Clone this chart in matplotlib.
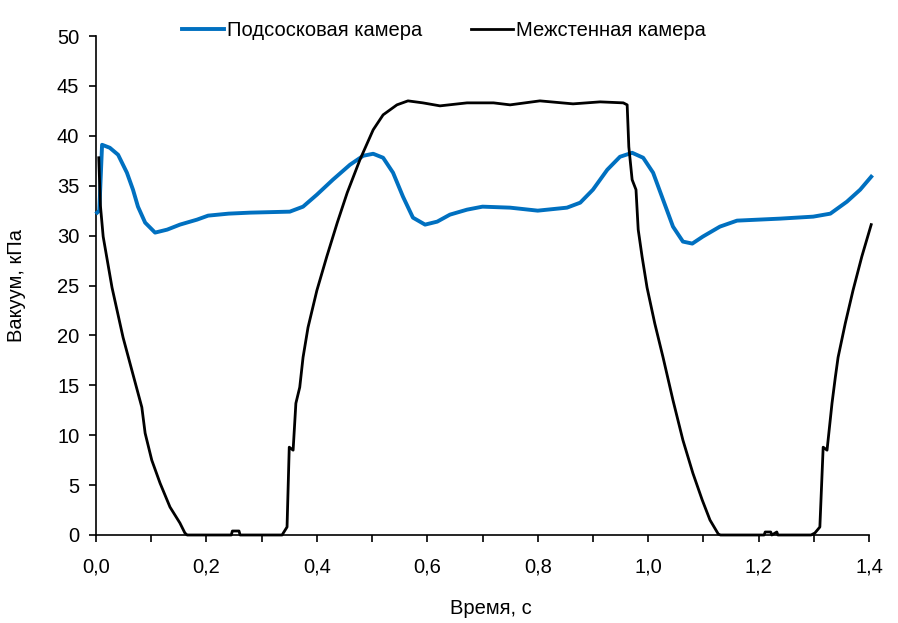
import numpy as np
import matplotlib
matplotlib.use("Agg")
import matplotlib.pyplot as plt
from matplotlib.ticker import MultipleLocator, FuncFormatter

plt.rcParams['font.family'] = ['Liberation Sans', 'DejaVu Sans']

# Подсосковая камера (blue)
t_teat = [0.002, 0.006, 0.011, 0.025, 0.040, 0.056, 0.067, 0.076, 0.089, 0.107,
          0.129, 0.152, 0.183, 0.203, 0.240, 0.279, 0.351, 0.375, 0.400, 0.429,
          0.460, 0.484, 0.502, 0.520, 0.538, 0.556, 0.574, 0.596, 0.618, 0.641,
          0.672, 0.700, 0.750, 0.800, 0.853, 0.877, 0.900, 0.926, 0.949, 0.971,
          0.991, 1.009, 1.027, 1.045, 1.063, 1.080, 1.099, 1.130, 1.161, 1.239,
          1.299, 1.330, 1.360, 1.384, 1.404]
p_teat = [32.3, 32.5, 39.1, 38.8, 38.1, 36.3, 34.6, 32.9, 31.3, 30.3,
          30.6, 31.1, 31.6, 32.0, 32.2, 32.3, 32.4, 32.9, 34.1, 35.6,
          37.1, 38.0, 38.2, 37.8, 36.3, 33.9, 31.8, 31.1, 31.4, 32.1,
          32.6, 32.9, 32.8, 32.5, 32.8, 33.3, 34.6, 36.6, 37.9, 38.3,
          37.8, 36.3, 33.6, 30.9, 29.4, 29.2, 29.9, 30.9, 31.5, 31.7,
          31.9, 32.2, 33.4, 34.6, 35.9]

# Межстенная камера (black)
t_wall = [0.005, 0.008, 0.013, 0.029, 0.049, 0.065, 0.083, 0.089, 0.101, 0.116,
          0.134, 0.152, 0.161, 0.165, 0.245, 0.247, 0.259, 0.261, 0.330, 0.337,
          0.346, 0.350, 0.357, 0.362, 0.369, 0.375, 0.384, 0.400, 0.418, 0.437,
          0.455, 0.478, 0.502, 0.520, 0.545, 0.565, 0.592, 0.623, 0.672, 0.720,
          0.750, 0.804, 0.864, 0.913, 0.955, 0.962, 0.965, 0.971, 0.978, 0.982,
          0.989, 0.998, 1.012, 1.027, 1.045, 1.063, 1.081, 1.098, 1.112, 1.127,
          1.131, 1.210, 1.212, 1.222, 1.224, 1.233, 1.235, 1.295, 1.302, 1.311,
          1.317, 1.324, 1.333, 1.339, 1.344, 1.357, 1.371, 1.387, 1.404]
p_wall = [37.8, 33.0, 29.9, 24.8, 19.8, 16.5, 12.8, 10.2, 7.5, 5.2,
          2.8, 1.2, 0.2, 0.0, 0.0, 0.4, 0.4, 0.0, 0.0, 0.0,
          0.8, 8.8, 8.5, 13.2, 14.8, 17.8, 20.8, 24.5, 27.9, 31.3,
          34.3, 37.6, 40.6, 42.1, 43.1, 43.5, 43.3, 43.0, 43.3, 43.3,
          43.1, 43.5, 43.2, 43.4, 43.3, 43.1, 38.9, 35.6, 34.6, 30.6,
          27.9, 24.8, 21.2, 17.8, 13.5, 9.5, 6.2, 3.5, 1.5, 0.1,
          0.0, 0.0, 0.3, 0.3, 0.0, 0.3, 0.0, 0.0, 0.2, 0.8,
          8.8, 8.5, 13.2, 15.8, 17.8, 21.2, 24.5, 27.9, 31.1]

fs = 14.5

fig = plt.figure(figsize=(8.98, 6.23), dpi=100)
ax = fig.add_axes([96/898, 1 - 535/623, (869-96)/898, (535-36)/623])

ax.plot(t_teat, p_teat, color='#0070C0', lw=2.8, label='Подсосковая камера',
        clip_on=False, zorder=3, solid_joinstyle='round')
ax.plot(t_wall, p_wall, color='black', lw=2.0, label='Межстенная камера',
        clip_on=False, zorder=3, solid_joinstyle='round')

ax.set_xlim(0, 1.4)
ax.set_ylim(0, 50)
ax.xaxis.set_major_locator(MultipleLocator(0.2))
ax.xaxis.set_minor_locator(MultipleLocator(0.1))
ax.yaxis.set_major_locator(MultipleLocator(5))
ax.xaxis.set_major_formatter(FuncFormatter(lambda v, p: f"{v:.1f}".replace('.', ',')))

for s in ['top', 'right']:
    ax.spines[s].set_visible(False)
for s in ['left', 'bottom']:
    ax.spines[s].set_color('black')
    ax.spines[s].set_linewidth(1.2)

ax.tick_params(axis='both', which='major', direction='out', length=5, width=1.2,
               labelsize=fs, colors='black')
ax.tick_params(axis='x', which='minor', direction='out', length=5, width=1.2)
ax.tick_params(axis='x', pad=11)
ax.tick_params(axis='y', pad=7)

ax.set_xlabel('Время, с', fontsize=fs)
ax.xaxis.set_label_coords((491 - 96) / 773, -(608 - 535) / 499)
ax.xaxis.label.set_va('center')
ax.set_ylabel('Вакуум, кПа', fontsize=fs, labelpad=22)

fig.legend(loc='center', bbox_to_anchor=(444/898, 1 - 31/623), ncol=2,
           frameon=False, fontsize=fs, handlelength=2.1, handletextpad=0.15,
           columnspacing=2.4)

fig.savefig('out.png', dpi=100)
